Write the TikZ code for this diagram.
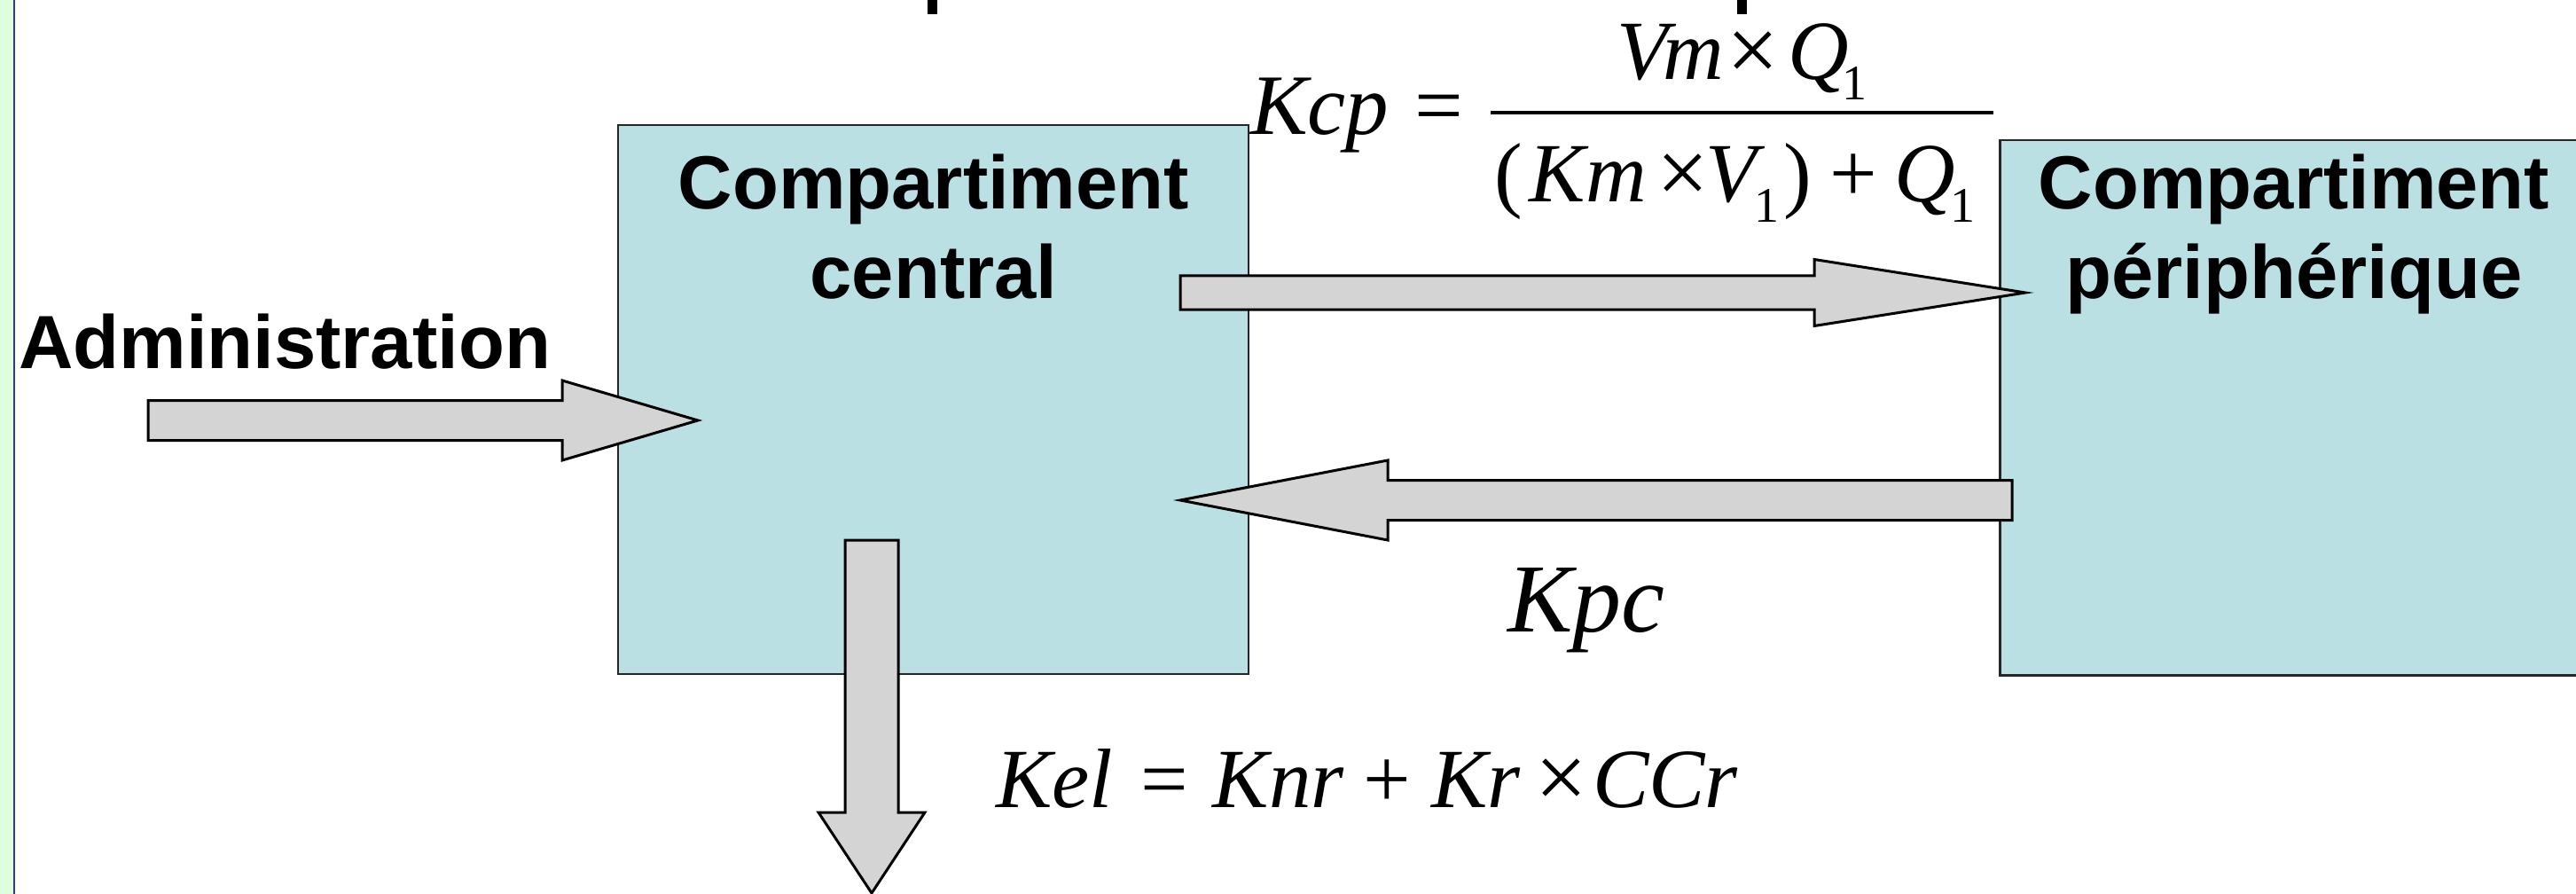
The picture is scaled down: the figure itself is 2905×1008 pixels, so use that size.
\documentclass[tikz,border=0pt]{standalone}
\usepackage{fontspec}
\setmainfont{Liberation Sans}
\newfontfamily\tms{Liberation Serif}
\usetikzlibrary{calc}
\definecolor{boxfill}{RGB}{187,224,227}
\definecolor{arrfill}{RGB}{212,212,212}
\definecolor{stripgreen}{RGB}{221,255,221}
\definecolor{stripblue}{RGB}{51,51,160}
\tikzset{
  compbox/.style={draw=black!85, line width=2.5pt, fill=boxfill, rectangle, inner sep=0pt},
  boxlabel/.style={font=\fontsize{85}{101}\selectfont\bfseries, align=center, inner sep=0pt, anchor=base},
  formula/.style={font=\tms\fontsize{95}{95}\selectfont, inner sep=0pt, anchor=base west},
  blockarrow/.style={draw=black, line width=3pt, fill=arrfill, line join=miter},
}
% tail, tip, half shaft width, half head width, head length
\newcommand\blockarr[5]{%
  \coordinate (bh) at ($(#2)!#5!(#1)$);
  \draw[blockarrow] ($(#1)!#3!90:(#2)$) -- ($(bh)!#3!90:(#2)$) -- ($(bh)!#4!90:(#2)$)
    -- (#2) -- ($(bh)!#4!-90:(#2)$) -- ($(bh)!#3!-90:(#2)$) -- ($(#1)!#3!-90:(#2)$) -- cycle;}
\newcommand\tsub[1]{\raisebox{-23pt}{\fontsize{56}{56}\selectfont #1}}
\newcommand\tx{\raisebox{-1.5pt}{\upshape\fontsize{104}{104}\selectfont ×}}
\begin{document}
\begin{tikzpicture}[x=1pt,y=-1pt]
\useasboundingbox (0,0) rectangle (2905,1008);
\clip (0,0) rectangle (2905,1008);
% left strip
\fill[stripgreen] (0,0) rectangle (15,1008);
\draw[stripblue, line width=2.5pt] (16,0) -- (16,1008);
% cut-off descenders of the title
\fill[black] (1046,0) rectangle (1057,16);
\fill[black] (1959,0) rectangle (1970,16);
% compartments
\node[compbox, minimum width=711pt, minimum height=619pt] (central) at (1052.5,450.5) {};
\node[compbox, minimum width=706pt, minimum height=603pt, anchor=north west] (periph) at (2254,157) {};
\node[boxlabel] (centralL) at (1053,337) {Compartiment\\central};
\node[boxlabel] (periphL) at (2587,337) {Compartiment\\périphérique};
\node[font=\fontsize{85}{101}\selectfont\bfseries, anchor=base west, inner sep=0pt] (admin) at (21,415) {Administration};
% arrow end points
\coordinate (admT) at (167,474);
\coordinate (admH) at (787,474);
\coordinate (cpT) at (1331,330);
\coordinate (cpH) at (2284,330);
\coordinate (pcT) at (2269,564);
\coordinate (pcH) at (1331,564);
\coordinate (elT) at (983,609);
\coordinate (elH) at (983,1007);
\blockarr{admT}{admH}{22.5pt}{45pt}{153pt}
\blockarr{cpT}{cpH}{19pt}{37.5pt}{238pt}
\blockarr{pcT}{pcH}{22.5pt}{45pt}{234pt}
\blockarr{elT}{elH}{30pt}{60pt}{91pt}
% formulas
\node[formula] (kcp) at (1410,152) {\fontsize{97}{97}\selectfont\itshape Kcp\hspace{29pt}\upshape=};
\draw[line width=4pt] (1681,127) -- (2248,127);
\node[formula] (num) at (1823,90) {{\itshape V\hspace{-6pt}m}\hspace{4pt}\tx\hspace{10pt}{\itshape Q}\hspace{-8pt}\tsub{1}};
\node[formula] (den) at (1685,228) {(\hspace{8pt}{\itshape Km}\hspace{12pt}\tx\hspace{-4pt}{\itshape V}\hspace{-3pt}\tsub{1}\hspace{5pt})\hspace{20pt}+\hspace{20pt}{\itshape Q}\hspace{-6pt}\tsub{1}};
\node[formula] (kpc) at (1700,712) {\fontsize{110}{110}\selectfont\itshape Kpc};
\node[formula] (kel) at (1123,910) {\itshape Kel\hspace{31pt}\upshape=\hspace{28pt}\itshape Knr\hspace{22pt}\upshape+\hspace{23pt}\itshape Kr\hspace{17pt}\tx\hspace{6pt}\itshape CCr};
\end{tikzpicture}
\end{document}
